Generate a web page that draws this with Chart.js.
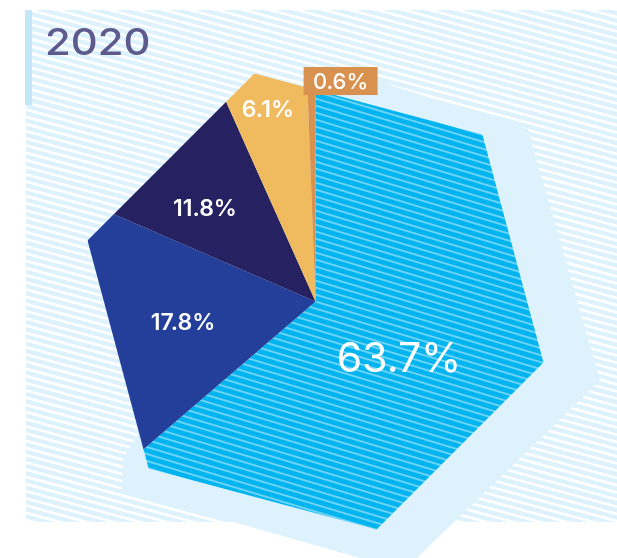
<!DOCTYPE html>
<html lang="en">
<head>
<meta charset="UTF-8">
<title>2020</title>
<script src="https://cdn.jsdelivr.net/npm/chart.js"></script>
<style>
  html, body { margin: 0; padding: 0; background: #fff; }
  #wrap { width: 617px; height: 558px; }
</style>
</head>
<body>
<div id="wrap"><canvas id="shareChart" width="617" height="558"></canvas></div>
<script>
const year = '2020';
const shares = [63.7, 17.8, 11.8, 6.1, 0.6];
const shareLabels = shares.map(v => v.toFixed(1) + '%');

// where each label sits inside its slice (fraction of slice angle, fraction of radius)
const labelAngleFrac = [0.543, 0.498, 0.395, 0.466, null];
const labelRadiusFrac = [0.43, 0.568, 0.613, 0.84, null];

const sliceColors = ['#00b4ef', '#233f99', '#262262', '#f0bb5f', '#d8914e'];
const BG_LIGHT = '#ddf2fc';

// the pie is cut into a hexagon; first corner 45deg clockwise from 12 o'clock
const HEX_START = -Math.PI / 4;

// light shadow behind the pie, in units of the pie radius from its centre
const shadowShape = [
  [0.06, -1.00], [0.90, -0.73], [1.205, 0.335], [0.375, 1.14],
  [-0.82, 0.80], [-0.815, 0.665], [-0.28, -0.21]
];

function stripes(ctx, x0, y0, x1, y1, slope, period, width, color) {
  ctx.save();
  ctx.beginPath();
  ctx.rect(x0, y0, x1 - x0, y1 - y0);
  ctx.clip();
  ctx.strokeStyle = color;
  ctx.lineWidth = width;
  const span = (x1 - x0) * slope;
  for (let yy = y0 - span - period; yy < y1 + period; yy += period) {
    ctx.beginPath();
    ctx.moveTo(x0, yy);
    ctx.lineTo(x1, yy + span);
    ctx.stroke();
  }
  ctx.restore();
}

function hexPath(ctx, cx, cy, r) {
  ctx.beginPath();
  for (let k = 0; k < 6; k++) {
    const a = HEX_START + k * Math.PI / 3;
    const px = cx + r * Math.cos(a), py = cy + r * Math.sin(a);
    k ? ctx.lineTo(px, py) : ctx.moveTo(px, py);
  }
  ctx.closePath();
}

// distance from centre to the hexagon edge along angle a
function hexReach(r, a) {
  const step = Math.PI / 3;
  let d = (a - (HEX_START + step / 2)) % step;
  if (d < 0) d += step;
  d -= step / 2;
  return r * Math.cos(Math.PI / 6) / Math.cos(d);
}

// striped fill for the big slice
const canvas = document.getElementById('shareChart');
const mainCtx = canvas.getContext('2d');
const tile = document.createElement('canvas');
tile.width = 617; tile.height = 558;
const tctx = tile.getContext('2d');
tctx.fillStyle = sliceColors[0];
tctx.fillRect(0, 0, 617, 558);
stripes(tctx, 0, 0, 617, 558, 0.3, 7, 2, 'rgba(255,255,255,0.42)');
const bluePattern = mainCtx.createPattern(tile, 'no-repeat');

const hexPie = {
  id: 'hexPie',
  beforeDraw(chart) {
    const ctx = chart.ctx;
    ctx.save();
    ctx.fillStyle = BG_LIGHT;
    ctx.fillRect(26, 10, 591, 512);
    stripes(ctx, 26, 10, 617, 522, 0.27, 7.2, 2.6, '#ffffff');
    ctx.fillStyle = '#c3e7f9';
    ctx.fillRect(25, 10, 7, 95);
    // year heading, stretched a little to get the wide round figures
    ctx.fillStyle = '#5f5a8d';
    ctx.font = '500 37px Inter';
    ctx.textBaseline = 'alphabetic';
    ctx.translate(45, 55);
    ctx.scale(1.13, 1);
    ctx.fillText(year, 0, 0);
    ctx.restore();
  },
  beforeDatasetsDraw(chart) {
    const ctx = chart.ctx;
    const arc = chart.getDatasetMeta(0).data[0];
    const {x, y, outerRadius: r} = arc.getProps(['x', 'y', 'outerRadius'], true);
    ctx.save();
    ctx.fillStyle = BG_LIGHT;
    ctx.beginPath();
    shadowShape.forEach(([u, v], i) => {
      i ? ctx.lineTo(x + u * r, y + v * r) : ctx.moveTo(x + u * r, y + v * r);
    });
    ctx.closePath();
    ctx.fill();
    ctx.restore();
    ctx.save();
    hexPath(ctx, x, y, r);
    ctx.clip();
  },
  afterDatasetsDraw(chart) {
    const ctx = chart.ctx;
    ctx.restore();
    const arcs = chart.getDatasetMeta(0).data;
    ctx.save();
    ctx.fillStyle = '#ffffff';
    ctx.textAlign = 'center';
    ctx.textBaseline = 'middle';
    arcs.forEach((arc, i) => {
      const p = arc.getProps(['x', 'y', 'startAngle', 'endAngle', 'outerRadius'], true);
      if (labelAngleFrac[i] === null) {
        // tiny slice: label sits in a tab above the slice
        const a = p.startAngle;
        const d = hexReach(p.outerRadius, a);
        const ex = p.x + d * Math.cos(a), ey = p.y + d * Math.sin(a);
        const bx = ex - 4, by = ey - 25;
        ctx.fillStyle = sliceColors[i];
        ctx.fillRect(bx, by, 74, 28);
        ctx.fillStyle = '#ffffff';
        ctx.font = '500 22px Inter';
        ctx.fillText(shareLabels[i], bx + 37, by + 15);
        return;
      }
      const a = p.startAngle + (p.endAngle - p.startAngle) * labelAngleFrac[i];
      const rr = p.outerRadius * labelRadiusFrac[i];
      ctx.font = i === 0 ? '400 41px Inter' : '600 23px Inter';
      ctx.fillText(shareLabels[i], p.x + rr * Math.cos(a), p.y + rr * Math.sin(a) + 1);
    });
    ctx.restore();
  }
};

new Chart(canvas, {
  type: 'pie',
  data: {
    labels: shareLabels,
    datasets: [{
      data: shares,
      backgroundColor: [bluePattern].concat(sliceColors.slice(1)),
      borderWidth: 0,
      hoverOffset: 0
    }]
  },
  options: {
    responsive: false,
    animation: false,
    events: [],
    layout: { padding: { left: 79.5, right: 65.5, top: 65.5, bottom: 20.5 } },
    plugins: { legend: { display: false }, tooltip: { enabled: false }, title: { display: false } }
  },
  plugins: [hexPie]
});
</script>
</body>
</html>
